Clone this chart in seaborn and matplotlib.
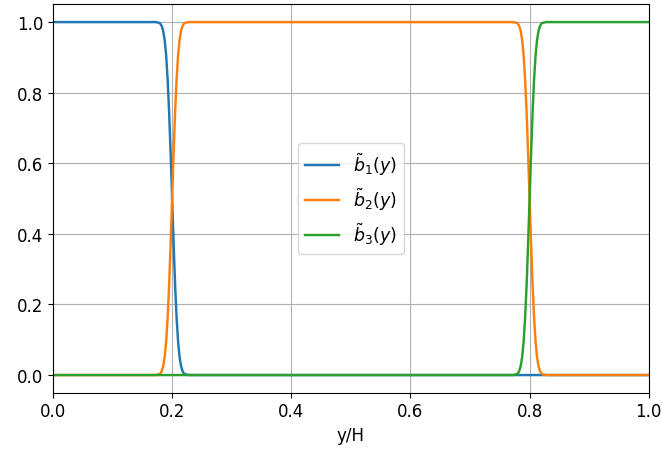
import matplotlib
matplotlib.use("Agg")
import matplotlib.pyplot as plt
import seaborn as sns
import pandas as pd

# y/H sample positions, dense near the two interfaces (0.2 and 0.8)
y_pos = [0.0, 0.1, 0.15, 0.16,
         0.165, 0.1675, 0.17, 0.1725, 0.175, 0.1775, 0.18, 0.1825, 0.185, 0.1875,
         0.19, 0.1925, 0.195, 0.1975, 0.2, 0.2025, 0.205, 0.2075, 0.21, 0.2125,
         0.215, 0.2175, 0.22, 0.2225, 0.225, 0.2275, 0.23, 0.2325, 0.235,
         0.24, 0.25, 0.3, 0.5, 0.7, 0.75, 0.76,
         0.765, 0.7675, 0.77, 0.7725, 0.775, 0.7775, 0.78, 0.7825, 0.785, 0.7875,
         0.79, 0.7925, 0.795, 0.7975, 0.8, 0.8025, 0.805, 0.8075, 0.81, 0.8125,
         0.815, 0.8175, 0.82, 0.8225, 0.825, 0.8275, 0.83, 0.8325, 0.835,
         0.84, 0.85, 0.9, 1.0]

b1 = [1.0, 1.0, 1.0, 1.0,
      1.0, 1.0, 1.0, 1.0, 0.999, 0.998, 0.996, 0.989, 0.975, 0.949,
      0.905, 0.837, 0.744, 0.628, 0.5, 0.372, 0.256, 0.163, 0.095, 0.051,
      0.025, 0.011, 0.004, 0.002, 0.001, 0.0, 0.0, 0.0, 0.0,
      0.0, 0.0, 0.0, 0.0, 0.0, 0.0, 0.0,
      0.0, 0.0, 0.0, 0.0, 0.0, 0.0, 0.0, 0.0, 0.0, 0.0,
      0.0, 0.0, 0.0, 0.0, 0.0, 0.0, 0.0, 0.0, 0.0, 0.0,
      0.0, 0.0, 0.0, 0.0, 0.0, 0.0, 0.0, 0.0, 0.0,
      0.0, 0.0, 0.0, 0.0]

b2 = [0.0, 0.0, 0.0, 0.0,
      0.0, 0.0, 0.0, 0.0, 0.001, 0.002, 0.004, 0.011, 0.025, 0.051,
      0.095, 0.163, 0.256, 0.372, 0.5, 0.628, 0.744, 0.837, 0.905, 0.949,
      0.975, 0.989, 0.996, 0.998, 0.999, 1.0, 1.0, 1.0, 1.0,
      1.0, 1.0, 1.0, 1.0, 1.0, 1.0, 1.0,
      1.0, 1.0, 1.0, 1.0, 0.999, 0.998, 0.996, 0.989, 0.975, 0.949,
      0.905, 0.837, 0.744, 0.628, 0.5, 0.372, 0.256, 0.163, 0.095, 0.051,
      0.025, 0.011, 0.004, 0.002, 0.001, 0.0, 0.0, 0.0, 0.0,
      0.0, 0.0, 0.0, 0.0]

b3 = [0.0, 0.0, 0.0, 0.0,
      0.0, 0.0, 0.0, 0.0, 0.0, 0.0, 0.0, 0.0, 0.0, 0.0,
      0.0, 0.0, 0.0, 0.0, 0.0, 0.0, 0.0, 0.0, 0.0, 0.0,
      0.0, 0.0, 0.0, 0.0, 0.0, 0.0, 0.0, 0.0, 0.0,
      0.0, 0.0, 0.0, 0.0, 0.0, 0.0, 0.0,
      0.0, 0.0, 0.0, 0.0, 0.001, 0.002, 0.004, 0.011, 0.025, 0.051,
      0.095, 0.163, 0.256, 0.372, 0.5, 0.628, 0.744, 0.837, 0.905, 0.949,
      0.975, 0.989, 0.996, 0.998, 0.999, 1.0, 1.0, 1.0, 1.0,
      1.0, 1.0, 1.0, 1.0]

labels = [r'$\tilde{b}_1(y)$', r'$\tilde{b}_2(y)$', r'$\tilde{b}_3(y)$']
colors = ['#1f77b4', '#ff7f0e', '#2ca02c']

df = pd.DataFrame({'y': y_pos, 'b1': b1, 'b2': b2, 'b3': b3})

plt.rcParams['font.size'] = 12

fig = plt.figure(figsize=(6.62, 4.52), dpi=100)
ax = fig.add_axes([0.080, 0.129, 0.900, 0.859])

for col, lab, c in zip(['b1', 'b2', 'b3'], labels, colors):
    sns.lineplot(data=df, x='y', y=col, label=lab, color=c, linewidth=1.75, ax=ax)

ax.set_xlim(0, 1)
ax.set_xlabel('y/H')
ax.set_ylabel('')
ax.grid(True)
ax.legend(loc='center', fontsize=12.5)

fig.savefig('out.png', dpi=100)
